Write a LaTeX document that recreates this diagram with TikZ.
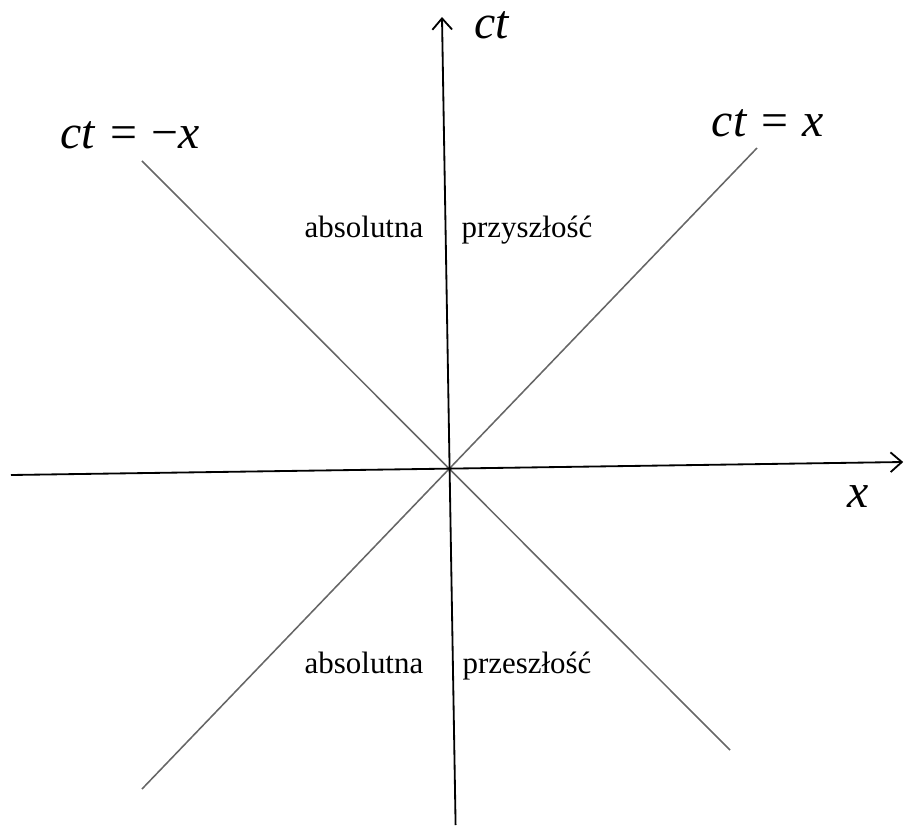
\documentclass[tikz,border=0pt]{standalone}
\usepackage{fontspec}
\setmainfont{Liberation Serif}
\usetikzlibrary{arrows.meta}

\tikzset{
  axis/.style={line width=1.3pt, -{Straight Barb[length=8pt,width=14pt,line width=1.3pt]}},
  cone/.style={black!60, line width=1.1pt},
  biglabel/.style={font=\fontsize{34}{36}\selectfont},
  region/.style={font=\fontsize{22}{26}\selectfont, anchor=base},
}

\begin{document}
\begin{tikzpicture}

            \useasboundingbox (-11.25,-8.95) rectangle (11.4,11.675);

            % End points
            \coordinate (tlow) at (0.14,-8.95);
            \coordinate (thigh) at (-0.2,11.25);
            \coordinate (xlow) at (-10.975,-0.2);
            \coordinate (xhigh) at (11.33,0.125);
            \coordinate (plow) at (-7.7,-8.05);
            \coordinate (phigh) at (7.675,7.975);
            \coordinate (mhigh) at (-7.7,7.65);
            \coordinate (mlow) at (7.0,-7.075);

            % Light cone
            \draw[cone] (plow) -- (phigh);
            \draw[cone] (mhigh) -- (mlow);

            % Axes
            \draw[axis] (tlow) -- (thigh);
            \draw[axis] (xlow) -- (xhigh);

            % Labels
            \node[biglabel] (ctlabel) at (1.05,11.05) {\textit{ct}};
            \node[biglabel] (xlabel) at (10.2,-0.75) {\textit{x}};
            \node[biglabel] (minuslabel) at (-8.0,8.3) {\textit{ct}\hspace{0.3em}=\hspace{0.3em}−\textit{x}};
            \node[biglabel] (pluslabel) at (7.95,8.6) {\textit{ct}\hspace{0.3em}=\hspace{0.3em}\textit{x}};

            \node[region] (futa) at (-2.15,5.73) {absolutna};
            \node[region] (futb) at (1.925,5.73) {przyszłość};
            \node[region] (pasta) at (-2.15,-5.15) {absolutna};
            \node[region] (pastb) at (1.925,-5.15) {przeszłość};

        \end{tikzpicture}
\end{document}
